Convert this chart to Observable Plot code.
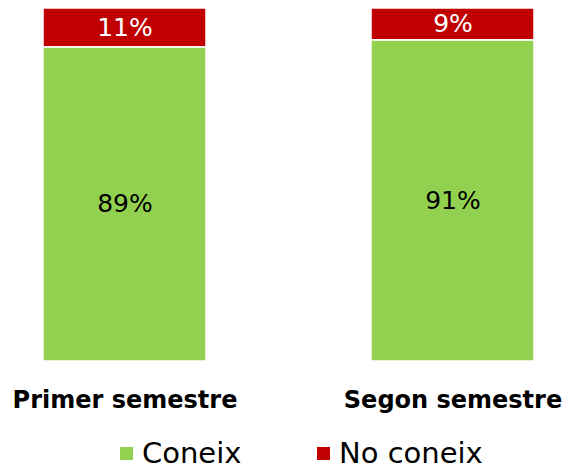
<!DOCTYPE html>
<html>
<head>
<meta charset="utf-8">
<script src="https://cdn.jsdelivr.net/npm/d3@7"></script>
<script src="https://cdn.jsdelivr.net/npm/@observablehq/plot@0.6"></script>
<style>
  body { margin: 0; background: #fff; font-family: "DejaVu Sans", sans-serif; overflow: hidden; }
  #legend { height: 40px; font-size: 29px; line-height: 1; color: #000; position: relative; }
  .item { display: flex; align-items: center; position: absolute; top: 9px; line-height: 1; }
  .sw { width: 13px; height: 13px; display: inline-block; margin-right: 9px; }
</style>
</head>
<body>
<div id="chart"></div>
<div id="legend">
  <div class="item" style="left:120px;"><span class="sw" style="background:#92D050"></span>Coneix</div>
  <div class="item" style="left:317px;"><span class="sw" style="background:#C00000"></span>No coneix</div>
</div>
<script>
const categories = ["Primer semestre", "Segon semestre"];
const series = ["Coneix", "No coneix"];
const coneix = [89, 91];
const noConeix = [11, 9];
const colors = ["#92D050", "#C00000"];

const data = [];
categories.forEach((c, i) => {
  data.push({cat: c, serie: series[0], value: coneix[i]});
  data.push({cat: c, serie: series[1], value: noConeix[i]});
});

const chart = Plot.plot({
  width: 569,
  height: 430,
  marginTop: 8,
  marginBottom: 69,
  marginLeft: 42,
  marginRight: 35,
  x: {domain: categories, paddingInner: 0.504, paddingOuter: 0, label: null},
  y: {domain: [0, 100], axis: null},
  color: {domain: series, range: colors},
  style: {fontFamily: "DejaVu Sans, sans-serif"},
  marks: [
    Plot.barY(data, Plot.stackY({x: "cat", y: "value", fill: "serie", stroke: "white", strokeWidth: 1.5, order: series})),
    Plot.text(data, Plot.stackY({
      x: "cat", y: "value", order: series,
      text: d => d.value + "%",
      fill: d => d.serie === "Coneix" ? "#000" : "#fff",
      fontSize: 25
    })),
    Plot.axisX({tickSize: 0, tickPadding: 29, fontSize: 24, fontWeight: "bold", label: null, fill: "#000"})
  ]
});
document.getElementById("chart").appendChild(chart);
</script>
</body>
</html>
